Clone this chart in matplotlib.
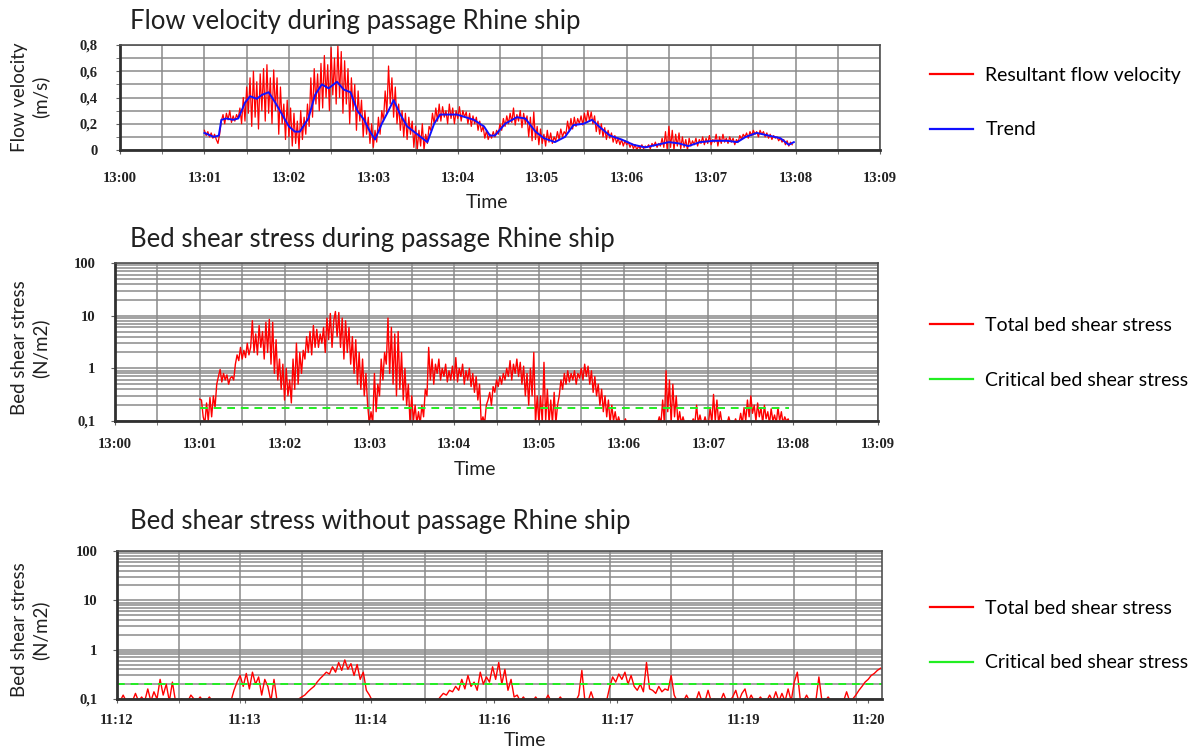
import numpy as np
import matplotlib
matplotlib.use("Agg")
import matplotlib.pyplot as plt
from matplotlib.ticker import FixedLocator, MultipleLocator, LogLocator, NullFormatter

# --- flow velocity during passage (minutes after 13:00, m/s) ---
trend_t = [1.00, 1.11, 1.17, 1.20, 1.26, 1.34, 1.40, 1.48, 1.54, 1.62, 1.68, 1.76,
           1.84, 1.92, 2.00, 2.07, 2.13, 2.23, 2.31, 2.39, 2.47, 2.57, 2.65, 2.73,
           2.81, 2.89, 2.96, 3.02, 3.10, 3.18, 3.24, 3.32, 3.40, 3.50, 3.58, 3.64,
           3.72, 3.79, 3.99, 4.19, 4.31, 4.38, 4.44, 4.56, 4.70, 4.80, 4.92, 5.02,
           5.15, 5.27, 5.37, 5.49, 5.59, 5.69, 5.80, 5.94, 6.08, 6.22, 6.36, 6.50,
           6.62, 6.73, 6.87, 7.03, 7.19, 7.31, 7.41, 7.54, 7.68, 7.82, 7.92, 7.98]
trend_v = [0.13, 0.10, 0.11, 0.23, 0.24, 0.23, 0.24, 0.36, 0.41, 0.39, 0.42, 0.44,
           0.36, 0.27, 0.18, 0.14, 0.14, 0.24, 0.42, 0.50, 0.47, 0.52, 0.46, 0.44,
           0.30, 0.23, 0.14, 0.08, 0.20, 0.30, 0.38, 0.27, 0.18, 0.13, 0.09, 0.06,
           0.20, 0.27, 0.27, 0.23, 0.18, 0.11, 0.11, 0.20, 0.25, 0.24, 0.14, 0.09,
           0.06, 0.10, 0.19, 0.20, 0.23, 0.17, 0.11, 0.08, 0.04, 0.02, 0.04, 0.06,
           0.05, 0.03, 0.06, 0.07, 0.07, 0.06, 0.10, 0.13, 0.11, 0.09, 0.04, 0.06]

# resultant velocity, one reading every 0.02 min from 13:01:00
velocity = [
    0.15, 0.11, 0.14, 0.10, 0.13, 0.09, 0.12, 0.08, 0.05, 0.12,
    0.22, 0.27, 0.20, 0.28, 0.23, 0.30, 0.21, 0.26, 0.22, 0.27,
    0.24, 0.32, 0.20, 0.40, 0.22, 0.48, 0.28, 0.55, 0.18, 0.60,
    0.25, 0.52, 0.16, 0.58, 0.30, 0.62, 0.22, 0.65, 0.28, 0.55,
    0.20, 0.61, 0.30, 0.55, 0.12, 0.48, 0.20, 0.35, 0.08, 0.38,
    0.10, 0.32, 0.03, 0.28, 0.05, 0.22, 0.00, 0.30, 0.08, 0.25,
    0.12, 0.35, 0.18, 0.55, 0.25, 0.62, 0.35, 0.58, 0.30, 0.66,
    0.32, 0.72, 0.40, 0.65, 0.30, 0.78, 0.42, 0.70, 0.35, 0.80,
    0.40, 0.75, 0.28, 0.68, 0.35, 0.62, 0.20, 0.55, 0.30, 0.50,
    0.15, 0.45, 0.22, 0.38, 0.10, 0.30, 0.12, 0.25, 0.05, 0.20,
    0.02, 0.15, 0.06, 0.25, 0.12, 0.30, 0.22, 0.45, 0.28, 0.64,
    0.35, 0.55, 0.25, 0.48, 0.20, 0.35, 0.15, 0.30, 0.10, 0.28,
    0.08, 0.25, 0.12, 0.22, 0.02, 0.18, 0.00, 0.15, 0.03, 0.20,
    0.00, 0.12, 0.05, 0.18, 0.15, 0.28, 0.20, 0.32, 0.22, 0.35,
    0.22, 0.33, 0.25, 0.30, 0.20, 0.35, 0.24, 0.32, 0.20, 0.30,
    0.24, 0.33, 0.22, 0.30, 0.25, 0.29, 0.20, 0.28, 0.18, 0.26,
    0.20, 0.25, 0.15, 0.22, 0.14, 0.18, 0.09, 0.15, 0.08, 0.12,
    0.09, 0.14, 0.10, 0.15, 0.12, 0.20, 0.15, 0.24, 0.18, 0.26,
    0.20, 0.28, 0.21, 0.32, 0.19, 0.27, 0.22, 0.30, 0.17, 0.28,
    0.20, 0.26, 0.10, 0.25, 0.07, 0.29, 0.08, 0.18, 0.04, 0.16,
    0.05, 0.12, 0.03, 0.15, 0.06, 0.13, 0.05, 0.10, 0.07, 0.14,
    0.08, 0.16, 0.10, 0.14, 0.12, 0.22, 0.14, 0.24, 0.16, 0.25,
    0.18, 0.24, 0.20, 0.26, 0.19, 0.28, 0.21, 0.30, 0.22, 0.29,
    0.20, 0.26, 0.14, 0.22, 0.12, 0.20, 0.10, 0.17, 0.08, 0.15,
    0.09, 0.13, 0.06, 0.11, 0.05, 0.09, 0.04, 0.08, 0.03, 0.07,
    0.04, 0.06, 0.02, 0.05, 0.01, 0.04, 0.00, 0.03, 0.01, 0.04,
    0.01, 0.03, 0.02, 0.04, 0.01, 0.05, 0.03, 0.06, 0.02, 0.05,
    0.03, 0.09, 0.02, 0.14, 0.00, 0.18, 0.02, 0.15, 0.00, 0.12,
    0.03, 0.13, 0.01, 0.10, 0.02, 0.08, 0.00, 0.09, 0.03, 0.07,
    0.04, 0.09, 0.03, 0.08, 0.05, 0.10, 0.04, 0.09, 0.05, 0.11,
    0.04, 0.08, 0.06, 0.12, 0.03, 0.10, 0.05, 0.12, 0.06, 0.09,
    0.05, 0.10, 0.06, 0.09, 0.04, 0.08, 0.06, 0.11, 0.08, 0.12,
    0.10, 0.13, 0.09, 0.14, 0.11, 0.15, 0.12, 0.14, 0.10, 0.15,
    0.12, 0.14, 0.10, 0.13, 0.09, 0.12, 0.08, 0.11, 0.09, 0.10,
    0.07, 0.09, 0.06, 0.08, 0.04, 0.07, 0.03, 0.06, 0.04]

# bed shear stress during passage (N/m2), same sampling
stress_ship = [
    0.26, 0.25, 0.12, 0.09, 0.22, 0.10, 0.28, 0.12, 0.30, 0.18,
    0.50, 0.70, 0.95, 0.55, 0.80, 0.60, 0.75, 0.50, 0.65, 0.70,
    0.60, 1.2, 1.8, 1.4, 2.5, 1.5, 2.2, 1.6, 3.0, 1.8,
    2.5, 8.0, 2.0, 4.5, 1.8, 6.5, 2.5, 5.0, 1.5, 7.5,
    2.0, 8.5, 1.2, 7.5, 0.8, 3.5, 0.6, 1.5, 0.4, 1.2,
    0.25, 1.0, 0.3, 0.6, 0.22, 1.5, 0.4, 3.0, 0.5, 2.0,
    0.8, 2.2, 1.5, 4.0, 2.0, 5.0, 1.8, 6.5, 2.5, 5.5,
    2.5, 4.5, 3.0, 6.0, 2.0, 9.0, 3.5, 11.0, 2.5, 8.0,
    12.0, 4.0, 11.5, 2.5, 9.0, 1.5, 8.0, 2.0, 6.0, 1.2,
    4.0, 0.8, 3.5, 0.5, 2.0, 0.4, 1.5, 0.3, 0.8, 0.2,
    0.09, 0.15, 0.09, 0.8, 0.15, 0.5, 0.3, 1.5, 0.6, 2.0,
    1.2, 9.0, 0.8, 6.0, 0.5, 4.5, 0.3, 5.0, 0.4, 2.0,
    0.25, 1.0, 0.2, 0.5, 0.09, 0.3, 0.1, 0.2, 0.09, 0.15,
    0.09, 0.2, 0.12, 0.4, 0.3, 2.5, 0.6, 1.5, 0.5, 1.2,
    0.8, 1.5, 0.6, 1.0, 0.7, 1.2, 0.55, 0.9, 0.6, 1.1,
    0.6, 1.6, 0.55, 1.0, 0.7, 1.2, 0.5, 0.9, 0.6, 1.0,
    0.45, 0.8, 0.35, 0.7, 0.25, 0.5, 0.09, 0.12, 0.09, 0.2,
    0.25, 0.35, 0.2, 0.45, 0.35, 0.6, 0.45, 0.7, 0.5, 0.8,
    0.6, 1.0, 0.7, 1.4, 0.6, 1.2, 0.8, 1.5, 0.7, 1.3,
    0.5, 1.1, 0.3, 0.8, 0.2, 1.0, 0.3, 2.0, 0.09, 0.3,
    0.09, 0.3, 0.09, 1.3, 0.1, 0.4, 0.09, 0.25, 0.09, 0.35,
    0.09, 0.2, 0.3, 0.6, 0.4, 0.8, 0.5, 0.9, 0.55, 0.8,
    0.6, 0.9, 0.5, 0.8, 0.65, 1.0, 0.6, 1.2, 0.7, 1.1,
    0.5, 0.9, 0.35, 0.7, 0.3, 0.5, 0.2, 0.4, 0.15, 0.3,
    0.12, 0.25, 0.09, 0.2, 0.1, 0.15, 0.09, 0.12, 0.09, 0.1,
    0.09, 0.11, 0.09, 0.09, 0.09, 0.09, 0.09, 0.09, 0.09, 0.09,
    0.10, 0.09, 0.09, 0.09, 0.09, 0.09, 0.09, 0.09, 0.09, 0.09,
    0.09, 0.12, 0.09, 0.25, 0.09, 0.9, 0.15, 0.6, 0.09, 0.5,
    0.12, 0.3, 0.09, 0.15, 0.09, 0.12, 0.09, 0.09, 0.10, 0.09,
    0.09, 0.11, 0.09, 0.2, 0.09, 0.13, 0.09, 0.09, 0.12, 0.09,
    0.09, 0.18, 0.09, 0.32, 0.1, 0.25, 0.09, 0.15, 0.09, 0.1,
    0.09, 0.09, 0.12, 0.09, 0.09, 0.09, 0.11, 0.09, 0.09, 0.14,
    0.09, 0.18, 0.1, 0.25, 0.12, 0.3, 0.14, 0.2, 0.1, 0.22,
    0.12, 0.18, 0.09, 0.2, 0.11, 0.15, 0.09, 0.17, 0.1, 0.13,
    0.09, 0.18, 0.1, 0.15, 0.09, 0.12, 0.1, 0.11, 0.09]
crit_ship = 0.18

# bed shear stress without ship, one reading every 2 s from 11:12
stress_calm = [
    0.09, 0.09, 0.12, 0.09, 0.10, 0.09, 0.13, 0.09, 0.11, 0.09,
    0.16, 0.09, 0.14, 0.10, 0.25, 0.12, 0.20, 0.09, 0.22, 0.09,
    0.09, 0.10, 0.09, 0.09, 0.12, 0.10, 0.09, 0.11, 0.09, 0.09,
    0.11, 0.09, 0.09, 0.09, 0.09, 0.09, 0.09, 0.09, 0.15, 0.22,
    0.30, 0.18, 0.33, 0.16, 0.35, 0.20, 0.28, 0.12, 0.25, 0.18,
    0.09, 0.25, 0.09, 0.09, 0.09, 0.09, 0.09, 0.09, 0.09, 0.10,
    0.11, 0.12, 0.14, 0.16, 0.18, 0.22, 0.26, 0.30, 0.35, 0.32,
    0.45, 0.35, 0.55, 0.38, 0.62, 0.40, 0.52, 0.30, 0.50, 0.25,
    0.35, 0.15, 0.12, 0.09, 0.10, 0.09, 0.09, 0.09, 0.09, 0.09,
    0.09, 0.09, 0.09, 0.09, 0.09, 0.09, 0.09, 0.09, 0.09, 0.09,
    0.09, 0.09, 0.09, 0.09, 0.09, 0.11, 0.13, 0.12, 0.15, 0.14,
    0.18, 0.15, 0.25, 0.16, 0.30, 0.18, 0.22, 0.15, 0.35, 0.20,
    0.28, 0.22, 0.45, 0.25, 0.55, 0.20, 0.40, 0.15, 0.25, 0.11,
    0.12, 0.09, 0.11, 0.09, 0.09, 0.09, 0.11, 0.09, 0.09, 0.09,
    0.12, 0.09, 0.09, 0.09, 0.11, 0.09, 0.09, 0.09, 0.09, 0.09,
    0.12, 0.38, 0.09, 0.09, 0.14, 0.09, 0.09, 0.09, 0.09, 0.09,
    0.17, 0.28, 0.22, 0.32, 0.25, 0.35, 0.20, 0.30, 0.18, 0.15,
    0.20, 0.14, 0.55, 0.16, 0.15, 0.13, 0.18, 0.14, 0.16, 0.15,
    0.30, 0.12, 0.09, 0.09, 0.09, 0.12, 0.09, 0.09, 0.09, 0.14,
    0.09, 0.09, 0.15, 0.09, 0.10, 0.09, 0.09, 0.13, 0.09, 0.09,
    0.11, 0.15, 0.09, 0.13, 0.16, 0.09, 0.12, 0.09, 0.09, 0.11,
    0.09, 0.09, 0.12, 0.09, 0.14, 0.09, 0.13, 0.09, 0.16, 0.09,
    0.22, 0.35, 0.09, 0.09, 0.12, 0.09, 0.09, 0.09, 0.28, 0.09,
    0.09, 0.11, 0.09, 0.09, 0.09, 0.09, 0.09, 0.14, 0.09, 0.10,
    0.12, 0.15, 0.18, 0.22, 0.25, 0.30, 0.33, 0.38, 0.42]
crit_calm = 0.20
calm_labels = ["11:12", "11:13", "11:14", "11:16", "11:17", "11:19", "11:20"]
calm_label_pos = [0, 83, 165, 245, 325, 407, 488]   # seconds

ship_labels = ["13:%02d" % m for m in range(10)]

TEXT_FONT = "Lato"
TICK_FONT = "Liberation Serif"
GRID = "#8a8a8a"

t_ship = np.linspace(1.0, 7.96, len(velocity))
t_calm = np.arange(len(stress_calm)) * 2.0

fig = plt.figure(figsize=(11.98, 7.51), dpi=100)
W, H = 1198.0, 751.0


def box(left, top, right, bottom):
    return [left / W, 1 - bottom / H, (right - left) / W, (bottom - top) / H]


def style(ax, xpad, ypad):
    ax.set_axisbelow(True)
    for side in ["top", "right"]:
        ax.spines[side].set_color("#505050")
        ax.spines[side].set_linewidth(1.2)
    for side in ["left", "bottom"]:
        ax.spines[side].set_color("#303030")
        ax.spines[side].set_linewidth(2.0)
    ax.grid(True, which="both", color=GRID, linewidth=1.1)
    ax.tick_params(which="both", direction="out", length=3, color="#606060", labelsize=10.5)
    ax.tick_params(axis="x", which="both", pad=xpad)
    ax.tick_params(axis="y", which="both", pad=ypad)
    for lab in ax.get_xticklabels() + ax.get_yticklabels():
        lab.set_fontfamily(TICK_FONT)
        lab.set_fontweight("bold")
        lab.set_color("#222222")


def side_text(x, y, s, size=14, **kw):
    fig.text(x / W, 1 - y / H, s, fontsize=size, family=TEXT_FONT, color="#202020", **kw)


def add_legend(ax, handles, labels, ymid):
    leg = ax.legend(handles, labels, loc="center left",
                    bbox_to_anchor=(930 / W, 1 - ymid / H), bbox_transform=fig.transFigure,
                    frameon=False, borderpad=0, borderaxespad=0,
                    handlelength=2.2, handletextpad=0.65, labelspacing=1.95,
                    prop={"family": TEXT_FONT, "size": 14})
    for h in leg.legend_handles:
        h.set_linestyle("-")
        h.set_linewidth(1.6)
    return leg


# panel 1: flow velocity
ax1 = fig.add_axes(box(120, 45, 880, 150))
l1, = ax1.plot(t_ship, velocity, color="#ff0000", lw=0.9)
l2, = ax1.plot(trend_t, trend_v, color="#1010ff", lw=1.4)
ax1.set_xlim(0, 9)
ax1.set_ylim(0, 0.8)
ax1.xaxis.set_minor_locator(MultipleLocator(0.5))
ax1.set_xticks(range(10), ship_labels)
ax1.yaxis.set_minor_locator(MultipleLocator(0.1))
ax1.set_yticks([0, 0.2, 0.4, 0.6, 0.8], ["0", "0,2", "0,4", "0,6", "0,8"])
style(ax1, 13, 13)
add_legend(ax1, [l1, l2], ["Resultant flow velocity", "Trend"], 102.5)


def stress_axes(rect, x, y, crit, crit_x):
    ax = fig.add_axes(rect)
    red, = ax.plot(x, y, color="#ff0000", lw=1.0)
    green, = ax.plot(crit_x, [crit, crit], color="#22ee22", lw=1.4, ls=(0, (4, 3)))
    ax.set_yscale("log")
    ax.set_ylim(0.1, 100)
    ax.yaxis.set_major_locator(FixedLocator([0.1, 1, 10, 100]))
    ax.yaxis.set_minor_locator(LogLocator(base=10, subs=np.arange(2, 10)))
    ax.yaxis.set_minor_formatter(NullFormatter())
    ax.set_yticks([0.1, 1, 10, 100], ["0,1", "1", "10", "100"])
    return ax, red, green


# panel 2: shear stress during passage
ax2, r2, g2 = stress_axes(box(115, 263, 878, 421), t_ship, stress_ship, crit_ship, [1.0, 7.95])
ax2.set_xlim(0, 9)
ax2.xaxis.set_minor_locator(MultipleLocator(0.5))
ax2.set_xticks(range(10), ship_labels)
style(ax2, 9, 11)
ax2.tick_params(axis="y", which="minor", length=0)
add_legend(ax2, [r2, g2], ["Total bed shear stress", "Critical bed shear stress"], 353)

# panel 3: shear stress without passage
ax3, r3, g3 = stress_axes(box(117, 551, 882, 699), t_calm, stress_calm, crit_calm, [0, 497])
ax3.set_xlim(0, 497)
ax3.xaxis.set_minor_locator(MultipleLocator(40))
ax3.set_xticks(calm_label_pos, calm_labels)
style(ax3, 8, 11)
ax3.xaxis.grid(False, which="major")
ax3.tick_params(axis="y", which="minor", length=0)
add_legend(ax3, [r3, g3], ["Total bed shear stress", "Critical bed shear stress"], 635.5)

# titles, axis names
side_text(130, 21, "Flow velocity during passage Rhine ship", size=18.5, va="center")
side_text(130, 239, "Bed shear stress during passage Rhine ship", size=18.5, va="center")
side_text(130, 522, "Bed shear stress without passage Rhine ship", size=18.5, va="center")

side_text(30, 97, "Flow velocity\n(m/s)", size=13.5, rotation=90, ha="center", va="center",
          multialignment="center", linespacing=1.25)
side_text(30, 348, "Bed shear stress\n(N/m2)", size=13.5, rotation=90, ha="center", va="center",
          multialignment="center", linespacing=1.25)
side_text(30, 630, "Bed shear stress\n(N/m2)", size=13.5, rotation=90, ha="center", va="center",
          multialignment="center", linespacing=1.25)

side_text(487, 202, "Time", ha="center", va="center")
side_text(475, 470, "Time", ha="center", va="center")
side_text(525, 740, "Time", ha="center", va="center")

fig.savefig("out.png", dpi=100, facecolor="white")
